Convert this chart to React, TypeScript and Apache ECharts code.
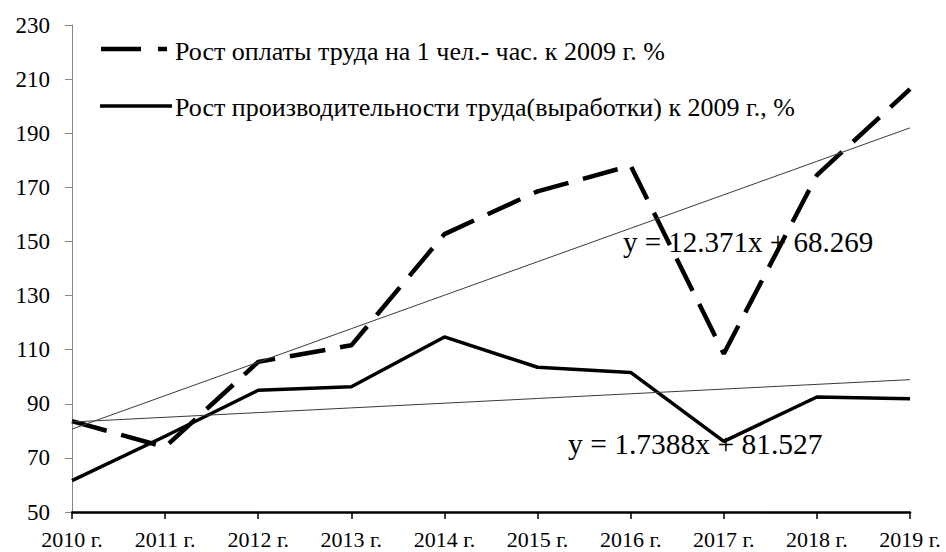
import React, { useEffect, useRef } from "react";
import * as echarts from "echarts";

const categories = ["2010 г.", "2011 г.", "2012 г.", "2013 г.", "2014 г.", "2015 г.", "2016 г.", "2017 г.", "2018 г.", "2019 г."];
const wageGrowth = [83.6, 74, 105.5, 111.6, 152.7, 168.5, 178, 108.5, 174.5, 206.3];
const productivityGrowth = [61.6, 78, 95, 96.3, 114.7, 103.5, 101.6, 76.1, 92.5, 91.9];
const wageTrend = [12.371, 68.269]; // slope, intercept
const productivityTrend = [1.7388, 81.527];
const yTicks = [50, 230, 20]; // min, max, step

const NAME_WAGE = "Рост оплаты труда на 1 чел.- час. к 2009 г. %";
const NAME_PROD = "Рост производительности труда(выработки) к 2009 г., %";
const FONT = "Times New Roman, Noto Serif CJK SC, serif";

const trend = (c: number[]) => categories.map((_, i) => +(c[0] * (i + 1) + c[1]).toFixed(3));

export default function App() {
  const ref = useRef<HTMLDivElement>(null);
  useEffect(() => {
    if (!ref.current) return;
    const chart = echarts.init(ref.current, null, { renderer: "svg" });
    chart.setOption({
      animation: false,
      backgroundColor: "#ffffff",
      textStyle: { fontFamily: FONT },
      grid: { left: 72, right: 36, top: 25, bottom: 40, containLabel: false },
      xAxis: {
        type: "category",
        data: categories,
        boundaryGap: false,
        axisLine: { lineStyle: { color: "#000", width: 2.5 } },
        axisTick: { show: true, inside: false, length: 7, lineStyle: { color: "#000", width: 1.5 }, alignWithLabel: true, interval: 0 },
        axisLabel: { interval: 0, fontSize: 22, color: "#000", margin: 16, fontFamily: FONT },
        splitLine: { show: false },
      },
      yAxis: {
        type: "value",
        min: yTicks[0],
        max: yTicks[1],
        interval: yTicks[2],
        axisLine: { show: true, lineStyle: { color: "#868686", width: 1 } },
        axisTick: { show: true, length: 7, lineStyle: { color: "#868686" } },
        axisLabel: { fontSize: 23, color: "#000", margin: 22, fontFamily: FONT },
        splitLine: { show: false },
      },
      series: [
        {
          name: NAME_WAGE,
          type: "line",
          data: wageGrowth,
          symbol: "none",
          lineStyle: { color: "#000", width: 4.5, type: [36, 15], cap: "butt" },
          z: 3,
        },
        {
          name: NAME_PROD,
          type: "line",
          data: productivityGrowth,
          symbol: "none",
          lineStyle: { color: "#000", width: 3.5 },
          z: 3,
        },
        {
          name: "trend1",
          type: "line",
          data: trend(wageTrend),
          symbol: "none",
          lineStyle: { color: "#3a3a3a", width: 1 },
          z: 4,
        },
        {
          name: "trend2",
          type: "line",
          data: trend(productivityTrend),
          symbol: "none",
          lineStyle: { color: "#3a3a3a", width: 1 },
          z: 4,
        },
      ],
      graphic: [
        {
          type: "line",
          shape: { x1: 101, y1: 49, x2: 167, y2: 49 },
          style: { stroke: "#000", lineWidth: 4.5, lineDash: [40, 17] },
        },
        {
          type: "text",
          x: 175,
          y: 51,
          style: { text: NAME_WAGE, fontSize: 26, fontFamily: FONT, fill: "#000", verticalAlign: "middle" },
        },
        {
          type: "line",
          shape: { x1: 100, y1: 106, x2: 172, y2: 106 },
          style: { stroke: "#000", lineWidth: 3.5 },
        },
        {
          type: "text",
          x: 175,
          y: 107,
          style: { text: NAME_PROD, fontSize: 26, fontFamily: FONT, fill: "#000", verticalAlign: "middle" },
        },
        {
          type: "text",
          left: 623,
          top: 227,
          z: 2,
          style: { text: "y = 12.371x + 68.269", fontSize: 29, fontFamily: FONT, fill: "#000" },
        },
        {
          type: "text",
          left: 568,
          top: 429,
          z: 2,
          style: { text: "y = 1.7388x + 81.527", fontSize: 29.5, fontFamily: FONT, fill: "#000" },
        },
      ],
    });
    return () => chart.dispose();
  }, []);
  return <div ref={ref} style={{ width: 946, height: 552, position: "absolute", left: 0, top: 0 }} />;
}
